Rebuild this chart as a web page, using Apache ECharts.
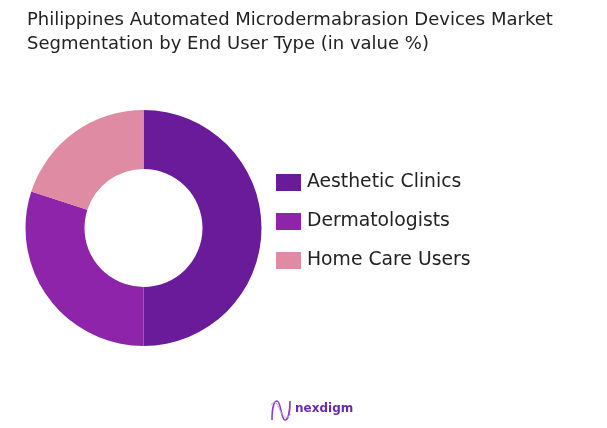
<!DOCTYPE html>
<html>
<head>
<meta charset="utf-8">
<style>html,body{margin:0;padding:0;background:#fff}#chart{width:607px;height:428px}</style>
<script src="https://cdn.jsdelivr.net/npm/echarts@6/dist/echarts.min.js"></script>
</head>
<body>
<div id="chart"></div>
<script>
var categories = ['Aesthetic Clinics', 'Dermatologists', 'Home Care Users'];
var values = [50, 30, 20];
var colors = ['#6a1b9a', '#8e24aa', '#df8ba3'];
var titleLines = ['Philippines Automated Microdermabrasion Devices Market', 'Segmentation by End User Type (in value %)'];

var chart = echarts.init(document.getElementById('chart'));
chart.setOption({
    animation: false,
    color: colors,
    title: {
        text: titleLines.join('\n'),
        left: 22,
        top: 3,
        textStyle: {
            fontFamily: 'DejaVu Sans',
            fontWeight: 400,
            fontSize: 18,
            lineHeight: 24,
            color: '#222222'
        }
    },
    legend: {
        orient: 'vertical',
        left: 271,
        top: 168,
        itemWidth: 25,
        itemHeight: 17,
        itemGap: 20,
        icon: 'rect',
        textStyle: {
            fontFamily: 'DejaVu Sans',
            fontSize: 18.8,
            lineHeight: 17,
            color: '#222222',
            padding: [0, 0, 0, 1]
        },
        data: categories
    },
    series: [{
        type: 'pie',
        center: [143.5, 228],
        radius: [59, 118],
        startAngle: 90,
        label: {show: false},
        labelLine: {show: false},
        silent: true,
        data: categories.map(function (name, i) {
            return {name: name, value: values[i]};
        })
    }],
    graphic: [
        // logo mark, drawn as three strokes of an N plus a lighter echo
        {
            type: 'bezierCurve',
            shape: {x1: 272, y1: 420, cpx1: 272, cpy1: 408, cpx2: 274, cpy2: 401, x2: 277, y2: 401},
            style: {fill: null, stroke: '#8a3fc4', lineWidth: 1.6}
        },
        {
            type: 'bezierCurve',
            shape: {x1: 277, y1: 401, cpx1: 281, cpy1: 401, cpx2: 281, cpy2: 420, x2: 285, y2: 420},
            style: {fill: null, stroke: '#8a3fc4', lineWidth: 1.6}
        },
        {
            type: 'bezierCurve',
            shape: {x1: 285, y1: 420, cpx1: 288, cpy1: 420, cpx2: 290, cpy2: 412, x2: 290, y2: 401},
            style: {fill: null, stroke: '#8a3fc4', lineWidth: 1.6}
        },
        {
            type: 'bezierCurve',
            shape: {x1: 271, y1: 405, cpx1: 279, cpy1: 392, cpx2: 280, cpy2: 428, x2: 291, y2: 414},
            style: {fill: null, stroke: '#c9a3e3', lineWidth: 1}
        },
        {
            type: 'text',
            left: 295,
            top: 403,
            style: {
                text: 'nexdigm',
                font: '700 12px "DejaVu Sans"',
                fill: '#6a2bb0'
            }
        }
    ]
});
</script>
</body>
</html>
